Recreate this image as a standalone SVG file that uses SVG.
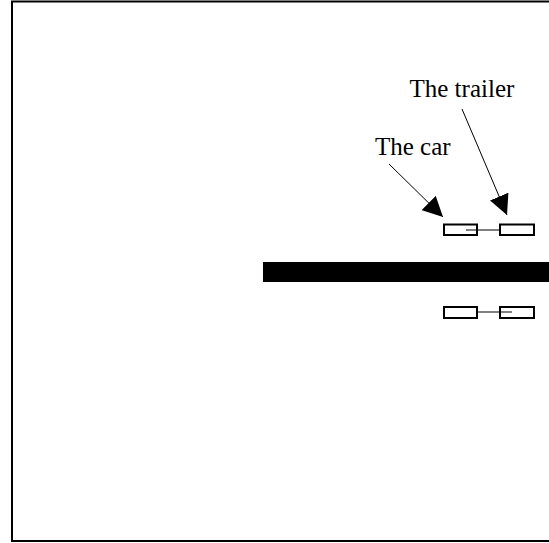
<svg xmlns="http://www.w3.org/2000/svg" width="549" height="543" viewBox="0 0 549 543">
<defs>
<style>
.lbl{font-family:"Liberation Serif","Times New Roman",serif;font-size:25px;fill:#000}
.box{fill:#fff;stroke:#000;stroke-width:2}
.lnk{stroke:#000;stroke-width:1;fill:none}
</style>
<marker id="ah" viewBox="0 0 10 10" refX="10" refY="5" markerWidth="20" markerHeight="20" markerUnits="userSpaceOnUse" orient="auto">
<path d="M0,0 L10,5 L0,10 Z" fill="#000"/>
</marker>
</defs>
<rect x="0" y="0" width="549" height="543" fill="#fff"/>
<rect x="12" y="1.5" width="560" height="539.5" fill="none" stroke="#000" stroke-width="2"/>
<g id="road"><rect x="263" y="262" width="286" height="20" fill="#000"/></g>
<g id="car-top">
<rect class="box" x="444" y="224.5" width="33" height="10.5"/>
</g>
<g id="trailer-top">
<rect class="box" x="500" y="224.5" width="34" height="10.5"/>
</g>
<g id="car-bottom">
<rect class="box" x="444" y="307" width="33" height="11"/>
</g>
<g id="trailer-bottom">
<rect class="box" x="500" y="307" width="34" height="11"/>
</g>
<g id="label-car"><text class="lbl" x="375" y="155">The car</text></g>
<g id="label-trailer"><text class="lbl" x="409.5" y="96.5">The trailer</text></g>
<g id="connectors">
<line class="lnk" x1="466" y1="230" x2="500" y2="230"/>
<line class="lnk" x1="477" y1="312" x2="512" y2="312"/>
<line class="lnk" x1="389" y1="164" x2="443" y2="217" marker-end="url(#ah)"/>
<line class="lnk" x1="462" y1="109" x2="507" y2="215" marker-end="url(#ah)"/>
</g>
</svg>
